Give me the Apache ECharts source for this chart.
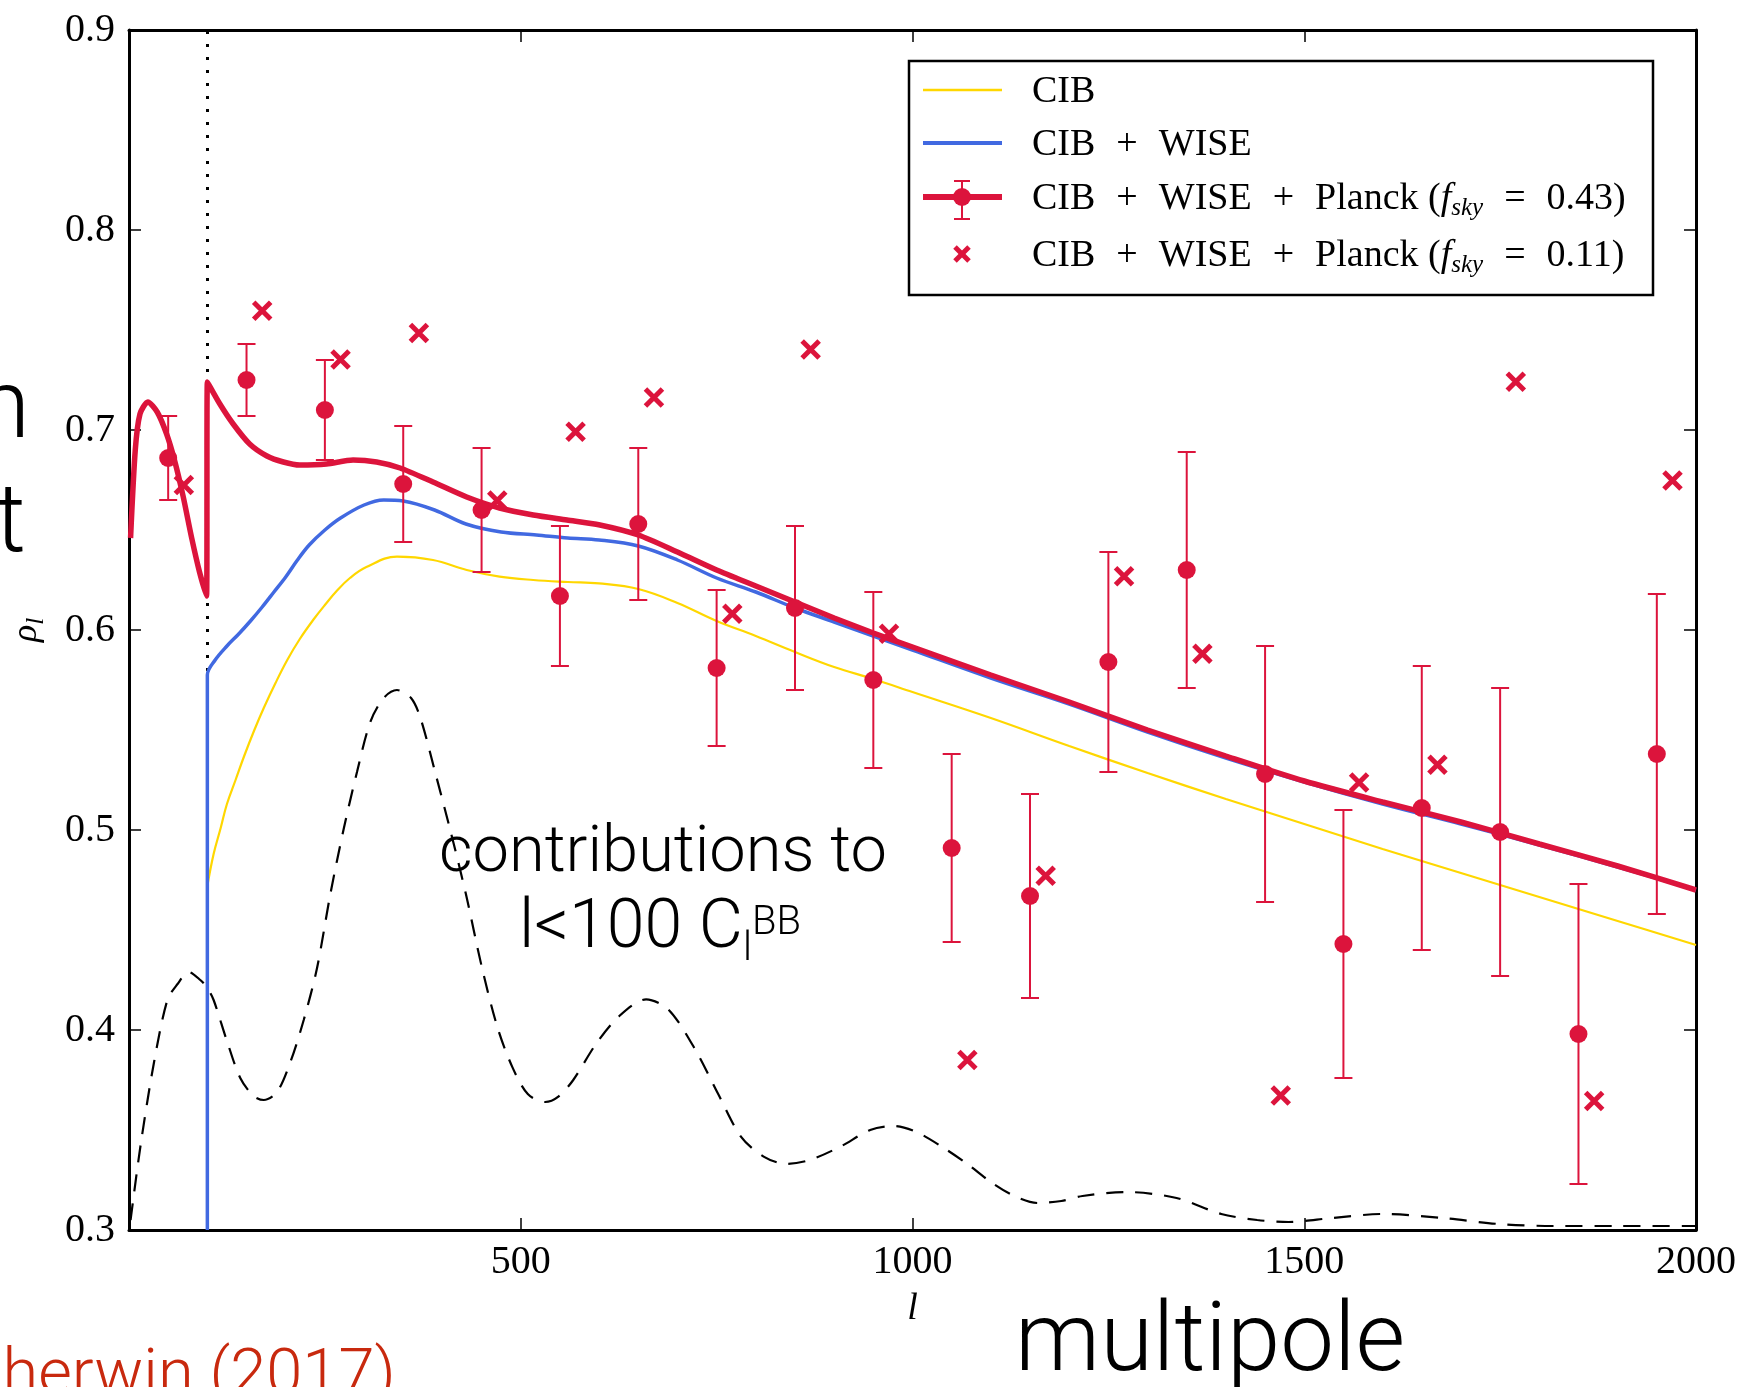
<!DOCTYPE html>
<html>
<head>
<meta charset="utf-8">
<title>rho_l</title>
<script src="https://cdn.jsdelivr.net/npm/echarts@6/dist/echarts.min.js"></script>
<style>
html, body { margin: 0; padding: 0; background: #fff; }
#chart { width: 1740px; height: 1387px; }
</style>
</head>
<body>
<div id="chart"></div>
<script>
// 数据：分箱测量值 (fsky = 0.43)
var binEll = [50, 150, 250, 350, 450, 550, 650, 750, 850, 950, 1050, 1150, 1250, 1350, 1450, 1550, 1650, 1750, 1850, 1950];
var rhoBin = [0.686, 0.725, 0.710, 0.673, 0.660, 0.617, 0.653, 0.581, 0.611, 0.575, 0.491, 0.467, 0.584, 0.630, 0.528, 0.443, 0.511, 0.499, 0.398, 0.538];
var rhoBinErr = [0.021, 0.018, 0.025, 0.029, 0.031, 0.035, 0.038, 0.039, 0.041, 0.044, 0.047, 0.051, 0.055, 0.059, 0.064, 0.067, 0.071, 0.072, 0.075, 0.080];

// fsky = 0.11 的点
var crossEll = [70, 170, 270, 370, 470, 570, 670, 770, 870, 970, 1070, 1170, 1270, 1370, 1470, 1570, 1670, 1770, 1870, 1970];
var rhoCross = [0.6725, 0.7596, 0.7352, 0.7485, 0.6647, 0.6991, 0.7163, 0.6081, 0.7402, 0.5981, 0.385, 0.4771, 0.6269, 0.5881, 0.3672, 0.5237, 0.5326, 0.7241, 0.3645, 0.6747];

// 理论曲线
var cibEll = [100, 108, 117, 125, 136, 147, 160, 172, 187, 202, 218, 236, 250, 265, 282, 303, 342, 388, 431, 473, 516, 560, 600, 650, 700, 750, 800, 850, 900, 950, 1000, 1100, 1200, 1300, 1400, 1500, 1600, 1700, 1800, 1900, 2000];
var cibRho = [0.472, 0.488, 0.501, 0.513, 0.525, 0.537, 0.550, 0.561, 0.5735, 0.585, 0.5955, 0.6055, 0.6125, 0.6195, 0.626, 0.6315, 0.6367, 0.635, 0.630, 0.6267, 0.625, 0.624, 0.6233, 0.6205, 0.6135, 0.6045, 0.597, 0.589, 0.5815, 0.5755, 0.569, 0.556, 0.542, 0.5285, 0.5155, 0.503, 0.4905, 0.4785, 0.4665, 0.4545, 0.4425];

var wiseEll = [100, 100, 110, 125, 140, 155, 170, 185, 200, 215, 230, 250, 270, 300, 325, 350, 390, 430, 475, 520, 560, 600, 650, 700, 750, 800, 850, 900, 950, 1000, 1100, 1200, 1300, 1400, 1500, 1600, 1700, 1800, 1900, 2000];
var wiseRho = [0.3, 0.5775, 0.585, 0.592, 0.598, 0.6045, 0.6115, 0.619, 0.6265, 0.635, 0.6425, 0.650, 0.656, 0.6625, 0.665, 0.6645, 0.660, 0.653, 0.649, 0.6475, 0.646, 0.645, 0.642, 0.635, 0.626, 0.619, 0.611, 0.604, 0.597, 0.590, 0.576, 0.563, 0.549, 0.536, 0.524, 0.513, 0.503, 0.4925, 0.4815, 0.470];

var planckEll = [2, 8, 14, 24, 36, 48, 58, 69, 80, 90, 99, 100, 116, 133, 154, 176, 197, 218, 252, 286, 316, 346, 388, 431, 473, 516, 559, 601, 650, 700, 750, 800, 850, 900, 950, 1000, 1100, 1200, 1300, 1400, 1500, 1600, 1700, 1800, 1900, 2000];
var planckRho = [0.646, 0.690, 0.708, 0.714, 0.709, 0.698, 0.685, 0.667, 0.646, 0.629, 0.617, 0.724, 0.713, 0.703, 0.693, 0.687, 0.684, 0.6825, 0.683, 0.685, 0.684, 0.681, 0.674, 0.6665, 0.661, 0.6575, 0.655, 0.6525, 0.6475, 0.639, 0.630, 0.622, 0.614, 0.606, 0.5985, 0.5915, 0.5775, 0.564, 0.550, 0.537, 0.5245, 0.514, 0.504, 0.493, 0.482, 0.470];

// l<100 C_l^BB 贡献 (虚线)
var bbEll = [2, 15, 32, 49, 62, 76, 91, 100, 108, 125, 142, 159, 172, 189, 206, 223, 240, 257, 274, 291, 308, 325, 342, 360, 372, 390, 410, 430, 450, 470, 489, 509, 531, 548, 567, 596, 625, 660, 689, 723, 752, 781, 810, 839, 869, 908, 946, 976, 1005, 1040, 1070, 1100, 1130, 1160, 1190, 1217, 1273, 1337, 1394, 1440, 1480, 1535, 1600, 1677, 1748, 1819, 1900, 2000];
var bbRho = [0.305, 0.343, 0.384, 0.415, 0.423, 0.429, 0.425, 0.421, 0.415, 0.3945, 0.376, 0.367, 0.365, 0.369, 0.384, 0.405, 0.431, 0.468, 0.5005, 0.529, 0.554, 0.566, 0.570, 0.566, 0.556, 0.530, 0.500, 0.468, 0.432, 0.4017, 0.3817, 0.368, 0.364, 0.3667, 0.375, 0.393, 0.4067, 0.4153, 0.41, 0.39, 0.368, 0.3467, 0.3367, 0.333, 0.335, 0.3417, 0.35, 0.352, 0.349, 0.341, 0.333, 0.324, 0.317, 0.3135, 0.3145, 0.317, 0.319, 0.316, 0.308, 0.305, 0.304, 0.306, 0.308, 0.306, 0.303, 0.302, 0.302, 0.302];

var xTicks = [0, 2000, 500];    // min, max, interval
var yTicks = [0.3, 0.9, 0.1];
var lBreak = 100;               // 虚点竖线

var serif = '"Liberation Serif", "DejaVu Serif", serif';
var sans = 'Roboto, "Liberation Sans", sans-serif';
var crimson = '#DC143C';

function pairs(xs, ys) {
	return xs.map(function(x, i) { return [x, ys[i]]; });
}

var axisLineStyle = { lineStyle: { color: '#000', width: 3 }, onZero: false };
var tickStyle = { inside: true, length: 12, lineStyle: { color: '#000', width: 1.5 } };

var chart = echarts.init(document.getElementById('chart'));

var option = {
	animation : false,
	backgroundColor : '#fff',
	grid : { left : 129, right : 44, top : 30, bottom : 157 },
	xAxis : [ {
		type : 'value', min : xTicks[0], max : xTicks[1], interval : xTicks[2],
		position : 'bottom',
		name : 'l', nameLocation : 'middle', nameGap : 60,
		nameTextStyle : { fontFamily : serif, fontStyle : 'italic', fontSize : 38, color : '#000' },
		axisLine : axisLineStyle, axisTick : tickStyle,
		axisLabel : {
			fontFamily : serif, fontSize : 40, color : '#000', margin : 12,
			formatter : function(v) { return v === 0 ? '' : String(v); }
		},
		splitLine : { show : false }
	}, {
		type : 'value', min : xTicks[0], max : xTicks[1], interval : xTicks[2],
		position : 'top',
		axisLine : axisLineStyle, axisTick : tickStyle,
		axisLabel : { show : false }, splitLine : { show : false }
	} ],
	yAxis : [ {
		type : 'value', min : yTicks[0], max : yTicks[1], interval : yTicks[2],
		position : 'left',
		name : '{r|ρ}{s|l}', nameLocation : 'middle', nameGap : 80, nameRotate : 90,
		nameTextStyle : {
			rich : {
				r : { fontFamily : serif, fontStyle : 'italic', fontSize : 36, color : '#000', lineHeight : 44 },
				s : { fontFamily : serif, fontStyle : 'italic', fontSize : 25, color : '#000', lineHeight : 24, verticalAlign : 'bottom' }
			}
		},
		axisLine : axisLineStyle, axisTick : tickStyle,
		axisLabel : {
			fontFamily : serif, fontSize : 40, color : '#000', margin : 14,
			formatter : function(v) { return v.toFixed(1); }
		},
		splitLine : { show : false }
	}, {
		type : 'value', min : yTicks[0], max : yTicks[1], interval : yTicks[2],
		position : 'right',
		axisLine : axisLineStyle, axisTick : tickStyle,
		axisLabel : { show : false }, splitLine : { show : false }
	} ],
	series : [ {
		name : 'BB', type : 'line', z : 2,
		data : pairs(bbEll, bbRho),
		showSymbol : false, smooth : 0.3,
		lineStyle : { color : '#000', width : 2.2, type : [ 17, 12 ] }
	}, {
		name : 'CIB', type : 'line', z : 3,
		data : pairs(cibEll, cibRho),
		showSymbol : false, smooth : 0.4,
		lineStyle : { color : '#FFD700', width : 2.2 },
		markLine : {
			silent : true, z : 1, symbol : [ 'none', 'none' ], label : { show : false },
			lineStyle : { color : '#000', width : 3, type : [ 3, 10 ] },
			data : [ { xAxis : lBreak } ]
		}
	}, {
		name : 'CIB + WISE', type : 'line', z : 4,
		data : pairs(wiseEll, wiseRho),
		showSymbol : false, smooth : 0.35,
		lineStyle : { color : '#4169E1', width : 3.5 }
	}, {
		name : 'CIB + WISE + Planck (fsky = 0.43)', type : 'line', z : 5,
		data : pairs(planckEll, planckRho),
		showSymbol : false, smooth : 0.25,
		lineStyle : { color : crimson, width : 5.5 }
	}, {
		// 误差棒
		name : 'bins 0.43', type : 'custom', z : 6,
		data : binEll.map(function(l, i) {
			return [ l, rhoBin[i], rhoBin[i] - rhoBinErr[i], rhoBin[i] + rhoBinErr[i] ];
		}),
		encode : { x : 0, y : [ 1, 2, 3 ] },
		renderItem : function(params, api) {
			var c = api.coord([ api.value(0), api.value(1) ]);
			var lo = api.coord([ api.value(0), api.value(2) ]);
			var hi = api.coord([ api.value(0), api.value(3) ]);
			var st = { stroke : crimson, lineWidth : 2 };
			return {
				type : 'group',
				children : [
					{ type : 'line', shape : { x1 : c[0], y1 : lo[1], x2 : c[0], y2 : hi[1] }, style : st },
					{ type : 'line', shape : { x1 : c[0] - 9, y1 : lo[1], x2 : c[0] + 9, y2 : lo[1] }, style : st },
					{ type : 'line', shape : { x1 : c[0] - 9, y1 : hi[1], x2 : c[0] + 9, y2 : hi[1] }, style : st },
					{ type : 'circle', shape : { cx : c[0], cy : c[1], r : 9 }, style : { fill : crimson } }
				]
			};
		}
	}, {
		name : 'CIB + WISE + Planck (fsky = 0.11)', type : 'scatter', z : 7,
		data : pairs(crossEll, rhoCross),
		symbol : 'path://M0,0L10,10M10,0L0,10', symbolSize : 17,
		itemStyle : { color : 'none', borderColor : crimson, borderWidth : 5, opacity : 1 }
	} ],
	graphic : [
		// 图例
		{ type : 'rect', z : 100, shape : { x : 909, y : 61, width : 744, height : 234 },
			style : { fill : '#fff', stroke : '#000', lineWidth : 2.5 } },
		{ type : 'line', z : 101, shape : { x1 : 923, y1 : 90, x2 : 1002, y2 : 90 },
			style : { stroke : '#FFD700', lineWidth : 2.5 } },
		{ type : 'line', z : 101, shape : { x1 : 923, y1 : 143, x2 : 1002, y2 : 143 },
			style : { stroke : '#4169E1', lineWidth : 4 } },
		{ type : 'line', z : 101, shape : { x1 : 923, y1 : 197, x2 : 1002, y2 : 197 },
			style : { stroke : crimson, lineWidth : 6 } },
		{ type : 'line', z : 101, shape : { x1 : 962, y1 : 181, x2 : 962, y2 : 219 },
			style : { stroke : crimson, lineWidth : 2 } },
		{ type : 'line', z : 101, shape : { x1 : 954, y1 : 181, x2 : 970, y2 : 181 },
			style : { stroke : crimson, lineWidth : 2 } },
		{ type : 'line', z : 101, shape : { x1 : 954, y1 : 219, x2 : 970, y2 : 219 },
			style : { stroke : crimson, lineWidth : 2 } },
		{ type : 'circle', z : 101, shape : { cx : 962, cy : 197, r : 9 }, style : { fill : crimson } },
		{ type : 'line', z : 101, shape : { x1 : 955, y1 : 247, x2 : 969, y2 : 261 },
			style : { stroke : crimson, lineWidth : 5 } },
		{ type : 'line', z : 101, shape : { x1 : 969, y1 : 247, x2 : 955, y2 : 261 },
			style : { stroke : crimson, lineWidth : 5 } },
		legendLabel(92, '{t|CIB}'),
		legendLabel(145, '{t|CIB}{op|+}{t|WISE}'),
		legendLabel(199, '{t|CIB}{op|+}{t|WISE}{op|+}{t|Planck (}{it|f}{sub|sky}{op|=}{t|0.43)}'),
		legendLabel(256, '{t|CIB}{op|+}{t|WISE}{op|+}{t|Planck (}{it|f}{sub|sky}{op|=}{t|0.11)}'),
		// 幻灯片上的文字
		{ type : 'text', z : 50, x : 663, y : 855,
			style : { text : 'contributions to', fontFamily : sans, fontWeight : 300, fontSize : 65,
				fill : '#000', align : 'center', verticalAlign : 'middle' } },
		{ type : 'text', z : 50, x : 660, y : 890,
			style : {
				text : '{m|l<100 C}{sb|l}{sp|BB}', align : 'center', verticalAlign : 'top',
				rich : {
					m : { fontFamily : sans, fontWeight : 300, fontSize : 68, lineHeight : 80, fill : '#000' },
					sb : { fontFamily : sans, fontWeight : 300, fontSize : 40, lineHeight : 54, verticalAlign : 'bottom', fill : '#000' },
					sp : { fontFamily : sans, fontWeight : 300, fontSize : 40, height : 68, lineHeight : 68, verticalAlign : 'top', fill : '#000' }
				}
			} },
		{ type : 'text', z : 50, x : 1015, y : 1346,
			style : { text : 'multipole', fontFamily : sans, fontWeight : 300, fontSize : 96,
				fill : '#000', align : 'left', verticalAlign : 'middle' } },
		{ type : 'text', z : 50, x : -36, y : 1378,
			style : { text : 'Sherwin (2017)', fontFamily : sans, fontWeight : 300, fontSize : 65,
				fill : '#c8290e', align : 'left', verticalAlign : 'middle' } },
		{ type : 'text', z : 50, x : 30, y : 413,
			style : { text : 'correlation', fontFamily : sans, fontWeight : 300, fontSize : 97,
				fill : '#000', align : 'right', verticalAlign : 'middle' } },
		{ type : 'text', z : 50, x : 26, y : 527,
			style : { text : 'coefficient', fontFamily : sans, fontWeight : 300, fontSize : 97,
				fill : '#000', align : 'right', verticalAlign : 'middle' } }
	]
};

function legendLabel(y, txt) {
	return {
		type : 'text', z : 101, x : 1032, y : y,
		style : {
			text : txt, align : 'left', verticalAlign : 'middle',
			rich : {
				t : { fontFamily : serif, fontSize : 38, fill : '#000', lineHeight : 44 },
				op : { fontFamily : serif, fontSize : 38, fill : '#000', lineHeight : 44, padding : [ 0, 21 ] },
				it : { fontFamily : serif, fontSize : 38, fontStyle : 'italic', fill : '#000', lineHeight : 44 },
				sub : { fontFamily : serif, fontSize : 25, fontStyle : 'italic', fill : '#000', lineHeight : 26, verticalAlign : 'bottom' }
			}
		}
	};
}

chart.setOption(option);
</script>
</body>
</html>
